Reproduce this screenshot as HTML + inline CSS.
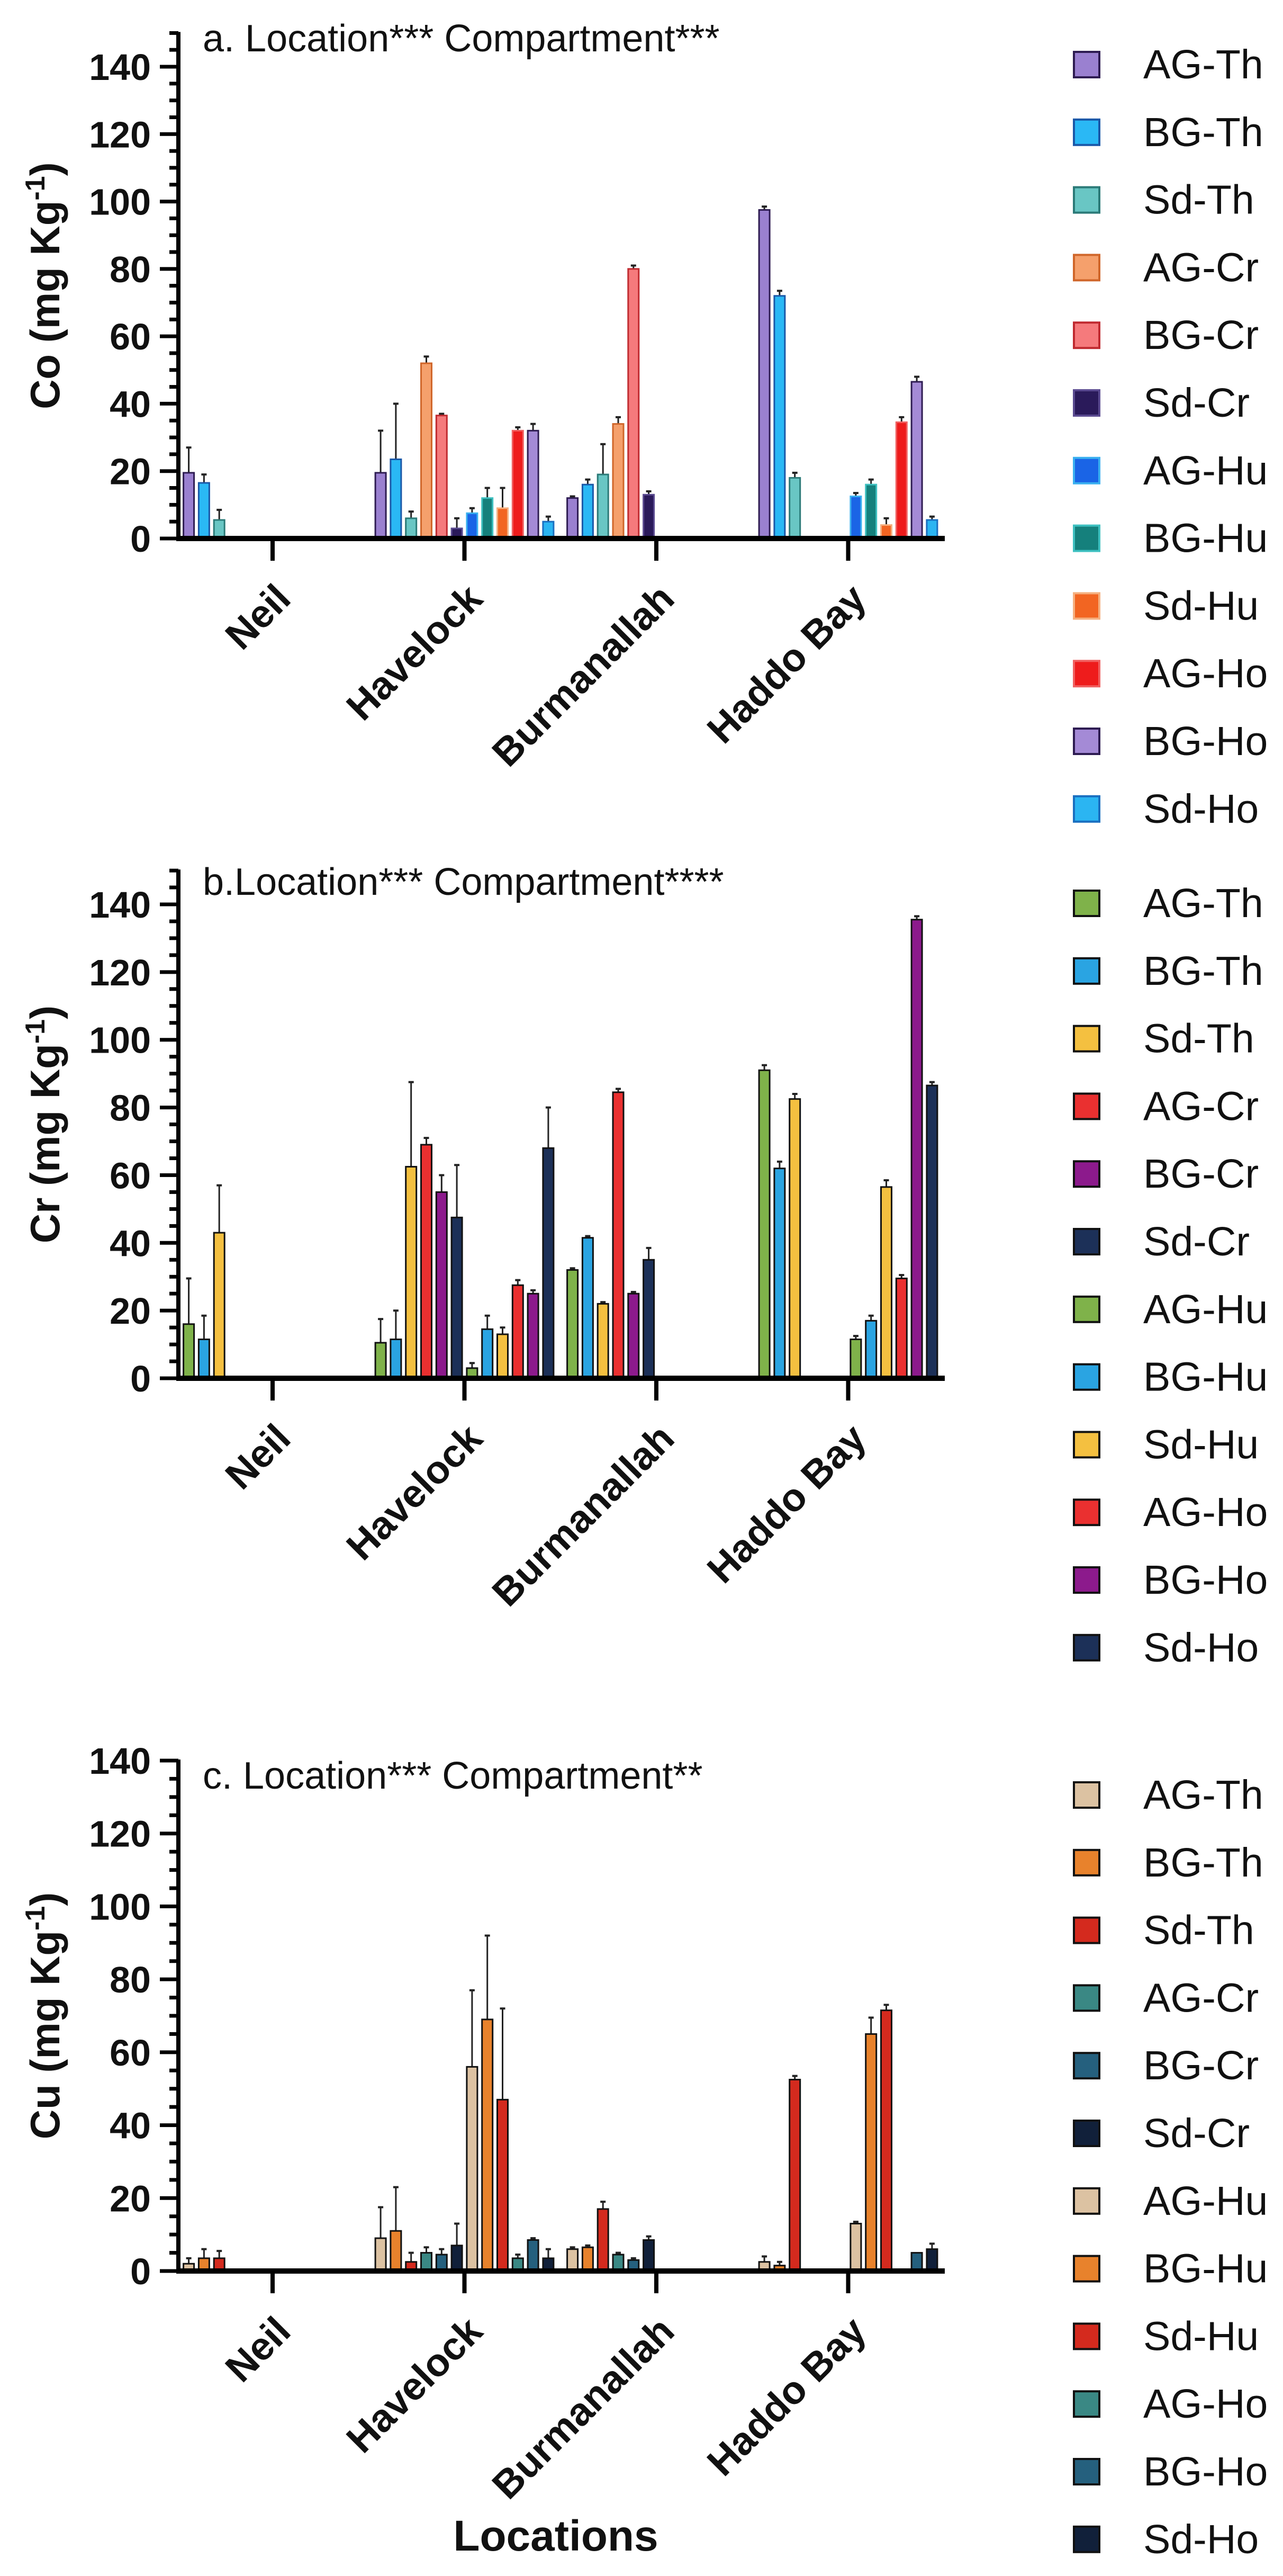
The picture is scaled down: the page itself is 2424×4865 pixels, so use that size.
<!DOCTYPE html>
<html><head><meta charset="utf-8">
<style>
html,body{margin:0;padding:0;background:#fff;}
svg{display:block;}
text{font-family:"Liberation Sans",Arial,sans-serif;}
</style></head>
<body>
<svg id="fig" width="2424" height="4865" viewBox="0 0 2424 4865" xmlns="http://www.w3.org/2000/svg"></svg>
<script>
const locations = ["Neil","Havelock","Burmanallah","Haddo Bay"];
const seriesNames = ["AG-Th","BG-Th","Sd-Th","AG-Cr","BG-Cr","Sd-Cr","AG-Hu","BG-Hu","Sd-Hu","AG-Ho","BG-Ho","Sd-Ho"];
const yTicks = [0,20,40,60,80,100,120,140];

// Panel a: Co
const coMeans = [
  [19.5,16.5,5.5,0,0,0,0,0,0,0,0,0],
  [19.5,23.5,6,52,36.5,3,7.5,12,9,32,32,5],
  [12,16,19,34,80,13,0,0,0,0,0,0],
  [97.5,72,18,0,0,0,12.5,16,4,34.5,46.5,5.5]
];
const coErrTop = [
  [27,19,8.5,0,0,0,0,0,0,0,0,0],
  [32,40,8,54,37,6,9,15,15,33,34,6.5],
  [12.5,17.5,28,36,81,14,0,0,0,0,0,0],
  [98.5,73.5,19.5,0,0,0,13.5,17.5,6,36,48,6.5]
];
// Panel b: Cr
const crMeans = [
  [16,11.5,43,0,0,0,0,0,0,0,0,0],
  [10.5,11.5,62.5,69,55,47.5,3,14.5,13,27.5,25,68],
  [32,41.5,22,84.5,25,35,0,0,0,0,0,0],
  [91,62,82.5,0,0,0,11.5,17,56.5,29.5,135.5,86.5]
];
const crErrTop = [
  [29.5,18.5,57,0,0,0,0,0,0,0,0,0],
  [17.5,20,87.5,71,60,63,4.5,18.5,15,29,26,80],
  [32.5,42,22.5,85.5,25.5,38.5,0,0,0,0,0,0],
  [92.5,64,84,0,0,0,12.5,18.5,58.5,30.5,136.5,87.5]
];
// Panel c: Cu
const cuMeans = [
  [2,3.5,3.5,0,0,0,0,0,0,0,0,0],
  [9,11,2.5,5,4.5,7,56,69,47,3.5,8.5,3.5],
  [6,6.5,17,4.5,3,8.5,0,0,0,0,0,0],
  [2.5,1.5,52.5,0,0,0,13,65,71.5,0,5,6]
];
const cuErrTop = [
  [3.5,6,5.5,0,0,0,0,0,0,0,0,0],
  [17.5,23,5,6.5,6,13,77,92,72,4.5,9,6],
  [6.5,7,19,5,3.5,9.5,0,0,0,0,0,0],
  [4,2.5,53.5,0,0,0,13.5,69.5,73,0,5,7.5]
];

const coColors = ["#9a80d0","#2ab8f5","#69c6c4","#f5a06c","#f57a7c","#2a1a5a","#1a64e6","#15807c","#f26522","#ee1c1c","#a48ad6","#2bb5f2"];
const coStroke = ["#2e1c52","#1a58a8","#2b7a78","#d0662a","#c02a30","#5a4a90","#3ab0f0","#3ec0c0","#f5b080","#f06060","#2e1c52","#1a6fc0"];
const crColors = ["#7fb24a","#2aa4e2","#f4c040","#ea3030","#8c1a8c","#1c3058","#7fb24a","#2aa4e2","#f4c040","#ea3030","#8c1a8c","#1c3058"];
const cuColors = ["#dcc2a2","#e8822c","#d42a1e","#3a8884","#25607e","#11203a","#dcc2a2","#e8822c","#d42a1e","#3a8884","#25607e","#11203a"];

const NS = "http://www.w3.org/2000/svg";
const svg = document.getElementById("fig");
function mk(tag, attrs, parent){
  const e = document.createElementNS(NS, tag);
  for (const k in attrs) e.setAttribute(k, attrs[k]);
  (parent||svg).appendChild(e);
  return e;
}

const AX = 337, AXEND = 1785;
const GROUP0 = 515, GROUPW = 362.5, BARSTEP = 28.8, BARW = 20;
function xCenter(loc, i){ return GROUP0 + loc*GROUPW + (i-5.5)*BARSTEP; }

function panel(key, cfg){
  const g = mk("g", {});
  
  
  const unit = (cfg.zero - cfg.y140)/140;
  const y = v => cfg.zero - v*unit;

  for (let l=0; l<locations.length; l++){
    for (let i=0; i<12; i++){
      const v = cfg.means[l][i];
      if (!v) continue;
      const cx = xCenter(l,i);
      const et = cfg.errTop[l][i];
      if (et > v){
        const eb = mk("line", {x1:cx,x2:cx,y1:y(v),y2:y(et),stroke:"#222","stroke-width":3}, g);
        
        
        mk("line", {x1:cx-5,x2:cx+5,y1:y(et),y2:y(et),stroke:"#222","stroke-width":4}, g);
      }
      const r = mk("rect", {x:cx-BARW/2, y:y(v), width:BARW, height:Math.max(0,cfg.zero-y(v)), fill:cfg.colors[i], stroke:cfg.stroke ? cfg.stroke[i] : "#111", "stroke-width":3}, g);
      
      
    }
  }

  const ya = mk("line", {x1:AX,x2:AX,y1:y(cfg.top)-2,y2:cfg.zero+5,stroke:"#000","stroke-width":8}, g);
  
  
  for (let v=0; v<=cfg.top; v+=5){
    const major = v%20===0;
    mk("line", {x1:major?302:320,x2:AX,y1:y(v),y2:y(v),stroke:"#000","stroke-width":7}, g);
  }
  for (const t of yTicks){
    const tl = mk("text", {x:285,y:y(t)+25,"text-anchor":"end","font-size":70,"font-weight":"bold",fill:"#111"}, g);
    tl.textContent = t;
    
    
  }
  const cy = (y(cfg.top)+cfg.zero)/2;
  const yt = mk("text", {x:0,y:0,transform:`translate(112,${cy}) rotate(-90)`,"text-anchor":"middle","font-size":78,"font-weight":"bold",fill:"#111"}, g);
  
  
  yt.appendChild(document.createTextNode(cfg.ylabel + " (mg Kg"));
  const sup = mk("tspan", {"font-size":52, dy:-28}, yt); sup.textContent = "-1";
  const cl = mk("tspan", {"font-size":78, dy:28}, yt); cl.textContent = ")";

  const xa = mk("line", {x1:AX-4,x2:AXEND,y1:cfg.zero,y2:cfg.zero,stroke:"#000","stroke-width":10}, g);
  
  
  for (let l=0; l<locations.length; l++){
    const cx = GROUP0 + l*GROUPW;
    mk("line", {x1:cx,x2:cx,y1:cfg.zero,y2:cfg.zero+42,stroke:"#000","stroke-width":8}, g);
    const xl = mk("text", {x:0,y:0,transform:`translate(${cx+38},${cfg.zero+118}) rotate(-45)`,"text-anchor":"end","font-size":74,"font-weight":"bold",fill:"#111"}, g);
    xl.textContent = locations[l];
    
    
  }

  const tt = mk("text", {x:383,y:cfg.titleY,"font-size":72,fill:"#111"}, g);
  tt.textContent = cfg.title;
  
  

  for (let i=0; i<12; i++){
    const ly = cfg.legY + i*127.8;
    const sw = mk("rect", {x:2029,y:ly-50,width:48,height:48,fill:cfg.colors[i],stroke:cfg.stroke ? cfg.stroke[i] : "#111","stroke-width":4}, g);
    
    
    const lt = mk("text", {x:2160,y:ly,"font-size":77,fill:"#111"}, g);
    lt.textContent = seriesNames[i];
    
    
  }
}

panel("co", {means:coMeans, errTop:coErrTop, colors:coColors, stroke:coStroke, zero:1017, y140:126, top:150, ylabel:"Co", title:"a. Location*** Compartment***", titleY:97, legY:148});
panel("cr", {means:crMeans, errTop:crErrTop, colors:crColors, zero:2603, y140:1708, top:150, ylabel:"Cr", title:"b.Location*** Compartment****", titleY:1690, legY:1732});
panel("cu", {means:cuMeans, errTop:cuErrTop, colors:cuColors, zero:4289, y140:3325, top:140, ylabel:"Cu", title:"c. Location*** Compartment**", titleY:3378, legY:3416});

const xt = mk("text", {x:1050,y:4817,"text-anchor":"middle","font-size":82,"font-weight":"bold",fill:"#111"});
xt.textContent = "Locations";


</script>
</body></html>
